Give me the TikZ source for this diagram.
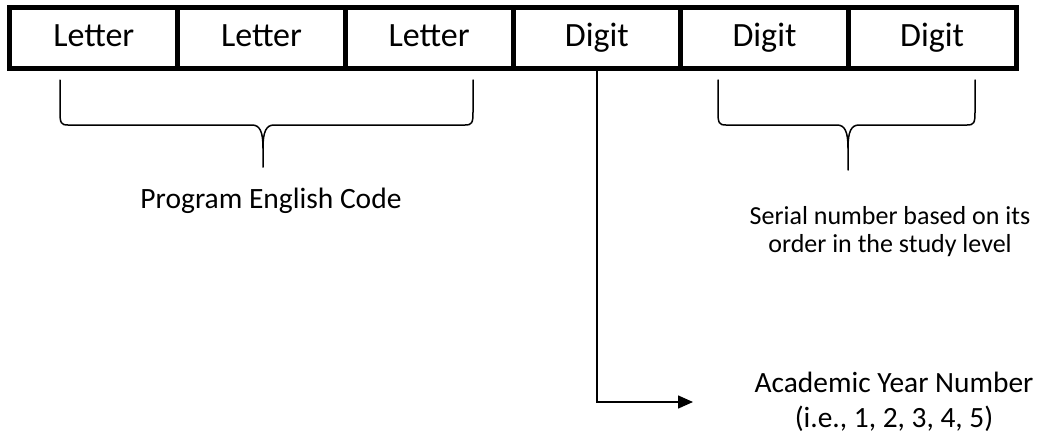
\documentclass[tikz,border=0pt]{standalone}
\usepackage{fontspec}
\setmainfont{Carlito}
\usetikzlibrary{arrows.meta}
\begin{document}
\begin{tikzpicture}[x=1pt,y=-1pt,
  cell/.style={minimum width=167.67pt, minimum height=61pt, inner sep=0pt, text height=24pt, text depth=7pt, font=\fontsize{34}{40}\selectfont},
  frame/.style={line width=5pt, line join=miter},
  brace/.style={line width=1.5pt, line cap=round},
  conn/.style={line width=1.5pt, -{Triangle[length=15pt,width=13pt]}},
  lbl/.style={align=center, inner sep=0pt}]
\useasboundingbox (0,0) rectangle (1041,437);
\fill[white] (0,0) rectangle (1041,437);
% cells
\node[cell] (c1) at (93.83,38) {Letter};
\node[cell] (c2) at (261.50,38) {Letter};
\node[cell] (c3) at (429.17,38) {Letter};
\node[cell] (c4) at (596.83,38) {Digit};
\node[cell] (c5) at (764.50,38) {Digit};
\node[cell] (c6) at (932.17,38) {Digit};
\draw[frame] (c1.north west) rectangle (c6.south east);
\foreach \i in {1,...,5} {\draw[frame] (c\i.north east) -- (c\i.south east);}
% braces
\draw[brace] (60,80) -- (60,112) .. controls (60,123) and (61,125) .. (68,125) -- (252,125) .. controls (260,125) and (263,132) .. (263,148) -- (263,167);
\draw[brace] (263,148) .. controls (263,132) and (266,125) .. (274,125) -- (465,125) .. controls (472,125) and (473,123) .. (473,112) -- (473,80);
\draw[brace] (718,80) -- (718,112) .. controls (718,123) and (719,125) .. (726,125) -- (837,125) .. controls (845,125) and (848,132) .. (848,148) -- (848,170);
\draw[brace] (848,148) .. controls (848,132) and (851,125) .. (859,125) -- (967,125) .. controls (974,125) and (975,123) .. (975,112) -- (975,80);
% labels
\node[lbl, font=\fontsize{29.5}{34}\selectfont] (prog) at (271,201) {Program English Code};
\node[lbl, font=\fontsize{26}{28}\selectfont] (serial) at (890,232) {Serial number based on its\\order in the study level};
\node[lbl, font=\fontsize{29.4}{35}\selectfont] (acad) at (894,402) {Academic Year Number\\(i.e., 1, 2, 3, 4, 5)};
% connector
\coordinate (tip) at (693,402);
\draw[conn] (c4.south) |- (tip);
\end{tikzpicture}
\end{document}
